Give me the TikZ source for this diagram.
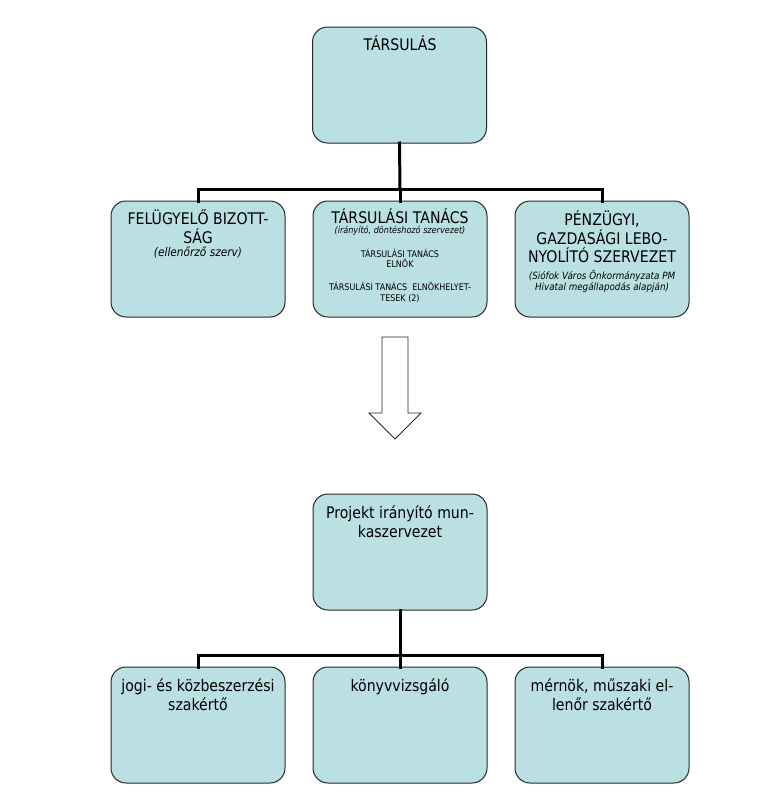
\documentclass[tikz,border=0pt]{standalone}
\usepackage{fontspec}
\setmainfont{DejaVu Sans}[FakeStretch=0.88]
\definecolor{boxfill}{RGB}{187,224,227}
\definecolor{edge}{RGB}{40,40,40}
\begin{document}
\begin{tikzpicture}[x=1pt,y=-1pt,
  box/.style={draw=edge, line width=1pt, fill=boxfill, rounded corners=15pt,
    minimum width=174pt, minimum height=116pt, inner sep=0pt, outer sep=0pt, anchor=north west},
  link/.style={draw=black, line width=3pt, line join=miter, line cap=rect},
  txt/.style={anchor=base, inner sep=0pt, text=black},
  big/.style={txt, font=\fontsize{16}{19}\selectfont},
  note/.style={txt, font=\fontsize{12}{14}\selectfont\itshape},
  tinyit/.style={txt, font=\fontsize{9.2}{11}\selectfont\itshape},
  small/.style={txt, font=\fontsize{9.1}{11}\selectfont},
  snote/.style={txt, font=\fontsize{10}{12}\selectfont\itshape},
  blockarrow/.style={draw=edge, line width=0.9pt, fill=white, line join=miter}]
\useasboundingbox (0,0) rectangle (774,793);

% upper chart boxes
\node[box] (tars) at (312.5,27) {};
\node[box] (felu) at (111,201) {};
\node[box] (tanacs) at (313,201) {};
\node[box] (penz) at (515,201) {};

% lower chart boxes
\node[box] (proj) at (313,494) {};
\node[box] (jogi) at (111,667) {};
\node[box] (konyv) at (313,667) {};
\node[box] (mern) at (515,667) {};

% upper connectors
\coordinate (j1) at (400,189);
\draw[link] (tars.south) -- (j1);
\draw[link] (felu.north) |- (j1) -| (penz.north);
\draw[link] (j1) -- (tanacs.north);

% lower connectors
\coordinate (j2) at (400,655);
\draw[link] (proj.south) -- (j2);
\draw[link] (jogi.north) |- (j2) -| (mern.north);
\draw[link] (j2) -- (konyv.north);

% hollow block arrow
\draw[blockarrow] (382,337) -- (408,337) -- (408,413) -- (421,413) -- (395,439)
  -- (369,413) -- (382,413) -- cycle;

% texts
\node[big] (t0) at (400,50) {TÁRSULÁS};

\node[big] (a1) at (198,224) {FELÜGYELŐ BIZOTT-};
\node[big] (a2) at (198,243) {SÁG};
\node[note] (a3) at (198,256) {(ellenőrző szerv)};

\node[big] (b1) at (400,223) {TÁRSULÁSI TANÁCS};
\node[tinyit] (b2) at (400,233.5) {(irányító, döntéshozó szervezet)};
\node[small] (b3) at (400,257) {TÁRSULÁSI TANÁCS};
\node[small] (b4) at (400,267) {ELNÖK};
\node[small] (b5) at (400,290) {TÁRSULÁSI TANÁCS\ \ ELNÖKHELYET-};
\node[small] (b6) at (400,301) {TESEK (2)};

\node[big] (c1) at (602,225) {PÉNZÜGYI,};
\node[big] (c2) at (602,244) {GAZDASÁGI LEBO-};
\node[big] (c3) at (602,262) {NYOLÍTÓ SZERVEZET};
\node[snote] (c4) at (602,279) {(Siófok Város Önkormányzata PM};
\node[snote] (c5) at (602,290) {Hivatal megállapodás alapján)};

\node[big] (p1) at (400,518) {Projekt irányító mun-};
\node[big] (p2) at (400,537) {kaszervezet};

\node[big] (d1) at (198,691) {jogi- és közbeszerzési};
\node[big] (d2) at (198,710) {szakértő};
\node[big] (e1) at (400,691) {könyvvizsgáló};
\node[big] (f1) at (602,691) {mérnök, műszaki el-};
\node[big] (f2) at (602,710) {lenőr szakértő};
\end{tikzpicture}
\end{document}
